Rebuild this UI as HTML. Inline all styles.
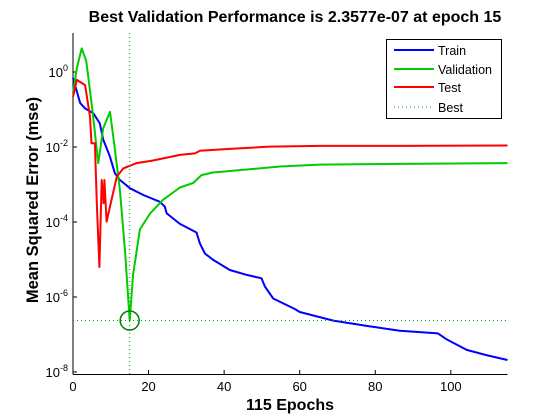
<!DOCTYPE html>
<html><head><meta charset="utf-8"><style>
html,body{margin:0;padding:0;background:#fff;}
svg{display:block;font-family:"Liberation Sans",Arial,sans-serif;}
</style></head><body>
<svg id="chart" width="560" height="420" viewBox="0 0 560 420" xmlns="http://www.w3.org/2000/svg">
<rect width="560" height="420" fill="#fff"/>
<text x="295" y="22" text-anchor="middle" font-size="16" font-weight="bold">Best Validation Performance is 2.3577e-07 at epoch 15</text>
<text x="290" y="410" text-anchor="middle" font-size="16" font-weight="bold">115 Epochs</text>
<text transform="translate(38,200) rotate(-90)" text-anchor="middle" font-size="16.5" font-weight="bold">Mean Squared Error  (mse)</text>
<g id="plot"></g>
<g id="legend">
<rect x="386.5" y="39.5" width="115" height="79" fill="#fff" stroke="#000" stroke-width="1"/>
<line x1="394" y1="50" x2="434" y2="50" stroke="#0000ff" stroke-width="2"/>
<text x="438" y="55" font-size="12.5">Train</text>
<line x1="394" y1="69" x2="434" y2="69" stroke="#00cc00" stroke-width="2"/>
<text x="438" y="74" font-size="12.5">Validation</text>
<line x1="394" y1="87" x2="434" y2="87" stroke="#ff0000" stroke-width="2"/>
<text x="438" y="92" font-size="12.5">Test</text>
<line x1="394" y1="107" x2="434" y2="107" stroke="#00a000" stroke-width="1" stroke-dasharray="1,3"/>
<text x="438" y="112" font-size="12.5">Best</text>
</g>
</svg>
<script>
const xTicks = [0, 20, 40, 60, 80, 100];
const yTickExps = [0, -2, -4, -6, -8];
const bestEpoch = 15;
const bestPerf = 2.3577e-7;
const trainEpochs = [0, 1.9, 3.2, 5.4, 7.1, 8, 9.8, 11.1, 12.4, 15.1, 18.6, 23, 24.3, 24.8, 28.3, 32.7, 33.6, 34.9, 37.1, 41.5, 46, 49.9, 50.8, 53, 58.7, 60, 68.9, 77.7, 86.5, 96.6, 98.9, 104.2, 109.4, 115];
const trainLog = [-0.16, -0.83, -0.97, -1.1, -1.37, -1.8, -2.26, -2.7, -2.88, -3.1, -3.28, -3.46, -3.59, -3.77, -4.05, -4.28, -4.57, -4.84, -5.01, -5.28, -5.41, -5.5, -5.72, -6.04, -6.32, -6.4, -6.63, -6.77, -6.9, -6.97, -7.13, -7.41, -7.55, -7.68];
const valEpochs = [0, 1, 2.3, 3.5, 5, 6.7, 8, 9.8, 11, 12.4, 13.8, 15, 15.9, 17.7, 20.4, 23.8, 28.3, 31.8, 34, 37, 46, 54.8, 65.3, 86.5, 115];
const valLog = [-0.57, 0.1, 0.63, 0.3, -0.9, -2.43, -1.5, -1.06, -2.0, -3.15, -4.8, -6.63, -5.4, -4.2, -3.77, -3.41, -3.08, -2.96, -2.75, -2.68, -2.6, -2.52, -2.47, -2.45, -2.43];
const testEpochs = [0, 1, 3.2, 4.5, 4.9, 5.8, 6.3, 7, 7.6, 8.1, 8.3, 8.9, 10.2, 11.6, 13.3, 16.8, 21.2, 28.3, 32.3, 33.6, 41.5, 52, 65.3, 86.5, 115];
const testLog = [-0.66, -0.21, -0.35, -1.19, -1.9, -1.9, -3.5, -5.2, -2.88, -3.5, -2.88, -3.99, -3.41, -2.79, -2.57, -2.43, -2.36, -2.21, -2.17, -2.1, -2.05, -1.99, -1.97, -1.97, -1.96];

const X0 = 73, X1 = 507.5, XMAX = 115;
const Y0 = 72, DEC = 37.5, YTOP = 33, YBOT = 374;
function xs(e) { return X0 + (X1 - X0) * e / XMAX; }
function ys(l) { return Y0 - l * DEC; }
const NS = 'http://www.w3.org/2000/svg';
const plot = document.getElementById('plot');
function mk(tag, attrs) { const el = document.createElementNS(NS, tag); for (const k in attrs) el.setAttribute(k, attrs[k]); plot.appendChild(el); return el; }

let ax = mk('line', {x1: X0, y1: YTOP, x2: X0, y2: YBOT + 0.5, stroke: '#000', 'stroke-width': 1});


let bx = mk('line', {x1: X0, y1: YBOT + 0.5, x2: X1, y2: YBOT + 0.5, stroke: '#000', 'stroke-width': 1});



xTicks.forEach(t => {
  const x = xs(t);
  const tk = mk('line', {x1: x, y1: YBOT, x2: x, y2: YBOT - 4, stroke: '#000', 'stroke-width': 1});
  
  
  const lb = mk('text', {x: x, y: YBOT + 17, 'text-anchor': 'middle', 'font-size': 13});
  lb.textContent = t;
  
  
});
yTickExps.forEach(t => {
  const y = ys(t);
  const tk = mk('line', {x1: X0, y1: y, x2: X0 + 4, y2: y, stroke: '#000', 'stroke-width': 1});
  
  
  const lb = mk('text', {x: 68, y: y + 5, 'text-anchor': 'end', 'font-size': 13});
  
  
  const base = document.createElementNS(NS, 'tspan'); base.textContent = '10';
  const sup = document.createElementNS(NS, 'tspan'); sup.textContent = t; sup.setAttribute('dy', -6); sup.setAttribute('font-size', 9);
  lb.appendChild(base); lb.appendChild(sup);
});

function series(ep, lg, color, name) {
  const d = ep.map((e, i) => (i ? 'L' : 'M') + xs(e).toFixed(1) + ',' + ys(lg[i]).toFixed(1)).join(' ');
  const p = mk('path', {d: d, fill: 'none', stroke: color, 'stroke-width': 2, 'stroke-linejoin': 'round'});
  
  
}
series(trainEpochs, trainLog, '#0000ff', 'train-line');
series(valEpochs, valLog, '#00cc00', 'validation-line');
series(testEpochs, testLog, '#ff0000', 'test-line');

const bx2 = xs(bestEpoch), by = ys(Math.log10(bestPerf));
const vl = mk('line', {x1: bx2, y1: YTOP, x2: bx2, y2: YBOT, stroke: '#00a000', 'stroke-width': 1, 'stroke-dasharray': '1,3'});


const hl = mk('line', {x1: X0, y1: by, x2: X1, y2: by, stroke: '#00a000', 'stroke-width': 1, 'stroke-dasharray': '1,3'});


const c = mk('circle', {cx: bx2, cy: by, r: 9.5, fill: 'none', stroke: '#008000', 'stroke-width': 1.5});


</script>
</body></html>
